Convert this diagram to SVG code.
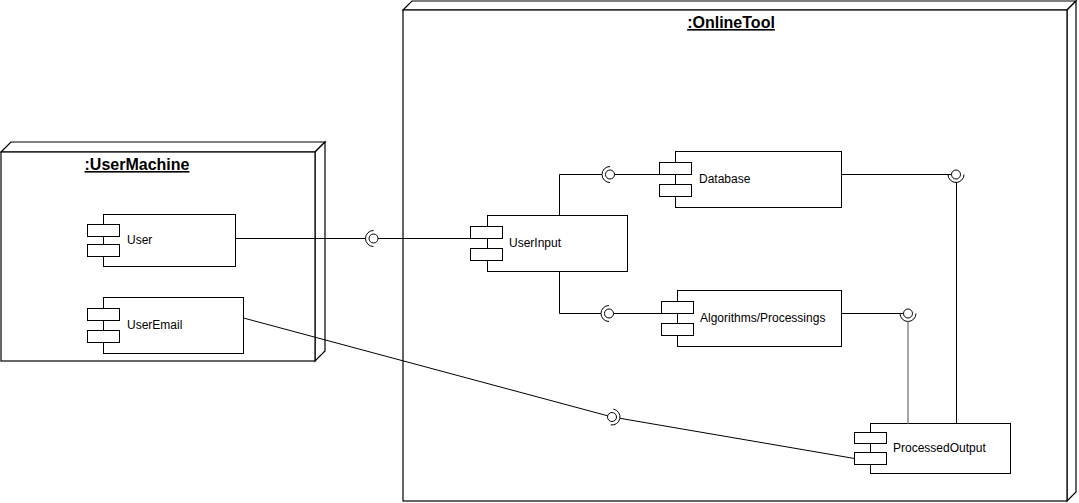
<svg xmlns="http://www.w3.org/2000/svg" width="1079" height="503" viewBox="0 0 1079 503">
<style>
.n{fill:#fff;stroke:#000;stroke-width:1.2}
.t{font-family:"Liberation Sans",Arial,sans-serif;font-weight:bold;font-size:16px;text-decoration:underline;text-anchor:middle;fill:#000}
.c{fill:#fff;stroke:#000;stroke-width:1}
.p{fill:#fff;stroke:#000;stroke-width:1}
.l{font-family:"Liberation Sans",Arial,sans-serif;font-size:12px;fill:#000}
.w{fill:none;stroke:#000;stroke-width:1}
.g{fill:none;stroke:#888;stroke-width:1.5}
.i{fill:#fff;stroke:#000;stroke-width:1}
</style>
<rect width="1079" height="503" fill="#fff"/>
<g id="UserMachine">
<polygon class="n" points="1,152 11,142 325,142 315,152"/>
<polygon class="n" points="315,152 325,142 325,351 315,361"/>
<rect class="n" x="1" y="152" width="314" height="209"/>
<text class="t" x="137" y="170">:UserMachine</text>
</g>
<g id="OnlineTool">
<polygon class="n" points="403,10 412,1 1076,1 1067,10"/>
<polygon class="n" points="1067,10 1076,1 1076,492 1067,501"/>
<rect class="n" x="403" y="10" width="664" height="491"/>
<text class="t" x="731" y="28">:OnlineTool</text>
</g>
<g id="User">
<rect class="c" x="103.5" y="214.5" width="132" height="52"/>
<rect class="p" x="87.5" y="224.5" width="32" height="12"/>
<rect class="p" x="87.5" y="244.5" width="32" height="12"/>
<text class="l" x="127" y="244">User</text>
</g>
<g id="UserEmail">
<rect class="c" x="103.5" y="297.5" width="140" height="56"/>
<rect class="p" x="87.5" y="308.5" width="32" height="12"/>
<rect class="p" x="87.5" y="330.5" width="32" height="12"/>
<text class="l" x="127" y="329">UserEmail</text>
</g>
<g id="UserInput">
<rect class="c" x="487.5" y="215.5" width="140" height="56"/>
<rect class="p" x="470.5" y="226.5" width="32" height="12"/>
<rect class="p" x="470.5" y="248.5" width="32" height="12"/>
<text class="l" x="509" y="247">UserInput</text>
</g>
<g id="Database">
<rect class="c" x="675.5" y="151.5" width="166" height="56"/>
<rect class="p" x="659.5" y="162.5" width="32" height="12"/>
<rect class="p" x="659.5" y="184.5" width="32" height="12"/>
<text class="l" x="699" y="183">Database</text>
</g>
<g id="Algorithms">
<rect class="c" x="677.5" y="290.5" width="164" height="56"/>
<rect class="p" x="661.5" y="301.5" width="32" height="12"/>
<rect class="p" x="661.5" y="323.5" width="32" height="12"/>
<text class="l" x="700" y="322">Algorithms/Processings</text>
</g>
<g id="ProcessedOutput">
<rect class="c" x="870.5" y="423.5" width="140" height="50"/>
<rect class="p" x="854.5" y="432.5" width="32" height="11"/>
<rect class="p" x="854.5" y="452.5" width="32" height="12"/>
<text class="l" x="893" y="452">ProcessedOutput</text>
</g>
<g id="connectors">
<path class="w" d="M235.5,238.5 H365.5"/>
<path class="w" d="M373.5,230.5 A8,8 0 0 0 373.5,246.5"/>
<circle class="i" cx="373.5" cy="238.5" r="4.5"/>
<path class="w" d="M378,238.5 H470.5"/>
<path class="w" d="M559.5,215.5 V174.5 H602"/>
<path class="w" d="M610,166.5 A8,8 0 0 0 610,182.5"/>
<circle class="i" cx="610" cy="174.5" r="4.5"/>
<path class="w" d="M614.5,174.5 H659.5"/>
<path class="w" d="M559.5,271.5 V313.5 H601"/>
<path class="w" d="M609,305.5 A8,8 0 0 0 609,321.5"/>
<circle class="i" cx="609" cy="313.5" r="4.5"/>
<path class="w" d="M613.5,313.5 H661.5"/>
<path class="w" d="M841.5,174.5 H951.5"/>
<circle class="i" cx="956" cy="174.5" r="4.5"/>
<path class="w" d="M948,174.5 A8,8 0 0 0 964,174.5"/>
<path class="w" d="M956.5,182.5 V423.5"/>
<path class="w" d="M841.5,313.5 H903.5"/>
<circle class="i" cx="908" cy="313.5" r="4.5"/>
<path class="w" d="M900,313.5 A8,8 0 0 0 916,313.5"/>
<path class="g" d="M908,321.5 V423.5"/>
<path class="w" d="M243.5,318 L607.7,415.8"/>
<circle class="i" cx="612" cy="417" r="4.5"/>
<path class="w" d="M613.3,409.1 A8,8 0 0 1 610.7,424.9"/>
<path class="w" d="M619.9,418.3 L854.5,458.5"/>
</g>
</svg>
